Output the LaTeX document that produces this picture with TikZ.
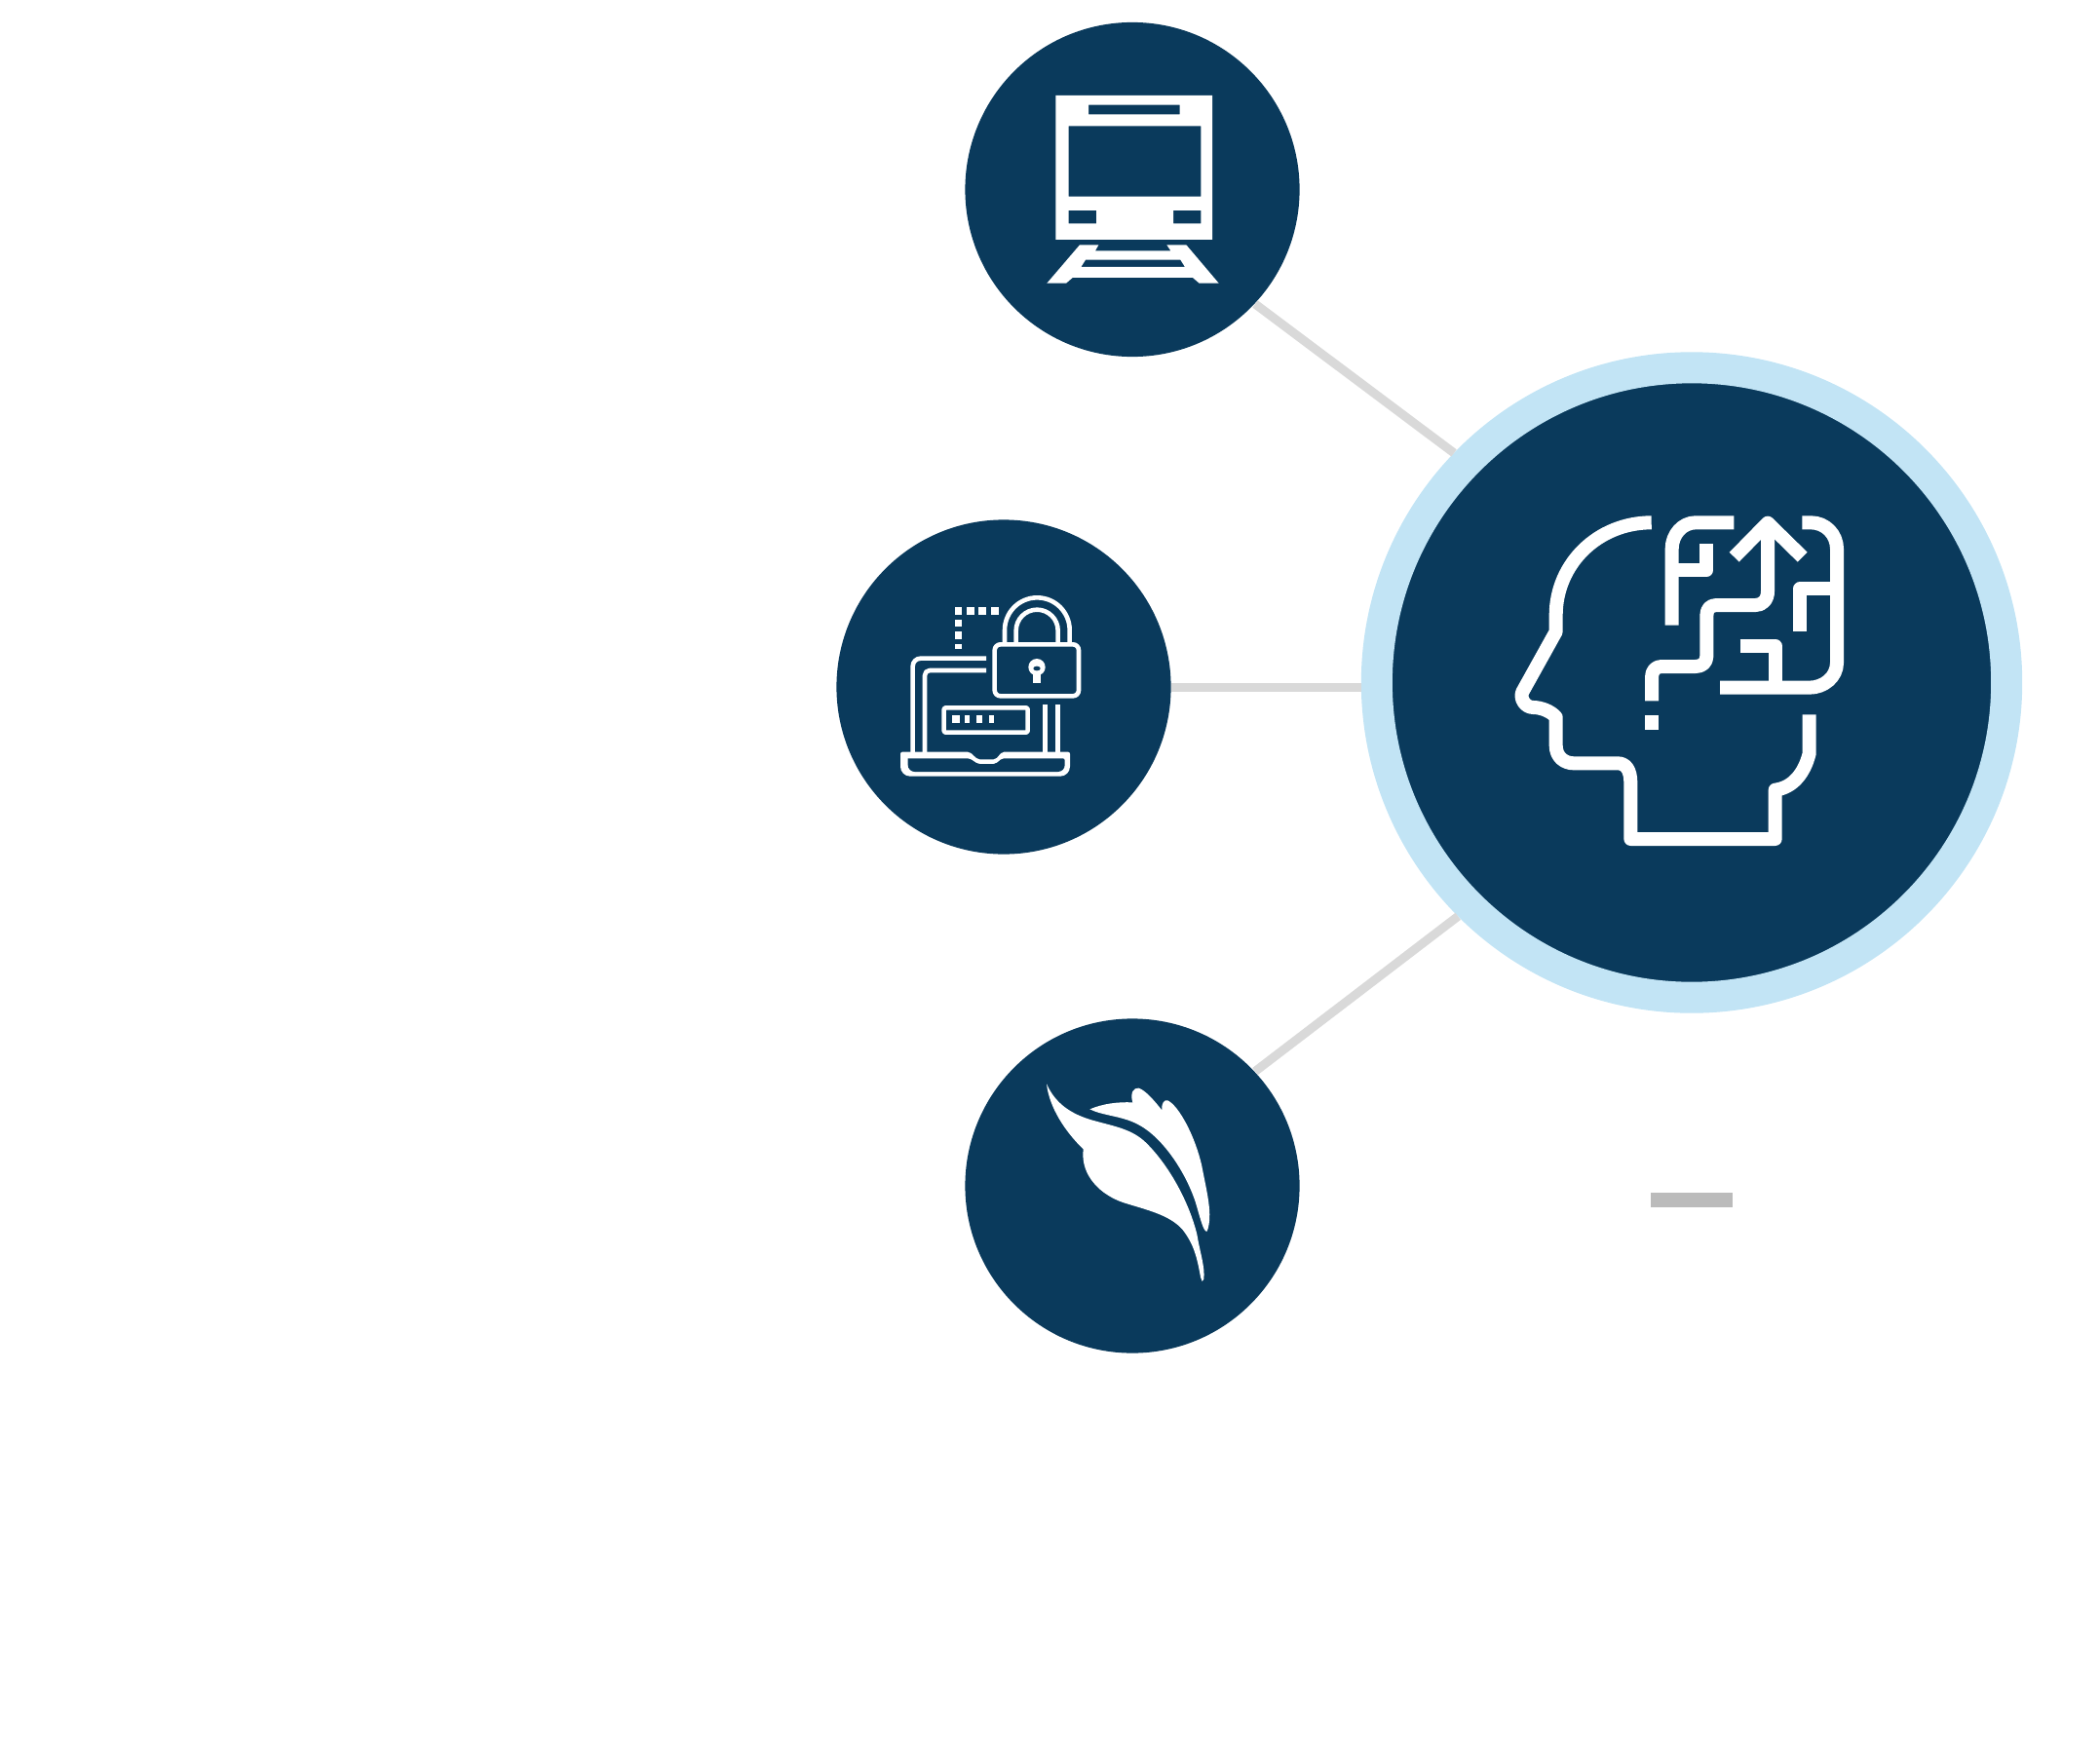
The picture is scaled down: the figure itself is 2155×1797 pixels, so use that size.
\documentclass[tikz,border=0pt]{standalone}
\usepackage{tikz}
\usetikzlibrary{positioning}
\definecolor{hubblue}{HTML}{0A3A5C}
\definecolor{ringblue}{HTML}{C2E4F5}
\definecolor{linkgray}{HTML}{D9D9D9}
\definecolor{bargray}{HTML}{BBBBBB}

\begin{document}
\begin{tikzpicture}[x=0.01cm,y=-0.01cm,
    spoke/.style={circle,fill=hubblue,minimum size=3.43cm,inner sep=0pt},
    hub/.style={circle,draw=ringblue,fill=hubblue,line width=0.32cm,minimum size=6.46cm,inner sep=0pt},
    link/.style={draw=linkgray,line width=0.09cm},
    thinicon/.style={draw=white,line width=0.046cm,line join=round},
    headicon/.style={draw=white,line width=0.14cm,line join=round},
    iconzoom/.style={shift={#1},scale=1/3}]
    \useasboundingbox (0,0) rectangle (2155,1797);

    \node[hub] (brain) at (1736,700.5) {};
    \node[spoke] (train) at (1162,194.5) {};
    \node[spoke] (leaf) [below=6.775cm of train] {};
    \node[spoke] (laptop) at (1030,705) {};
    \node[fill=bargray,minimum width=0.84cm,minimum height=0.15cm,inner sep=0pt] (bar) at (1736,1231.5) {};

    \path[link] (train.-43) -- (brain.136.2);
    \path[link] (laptop.east) -- (laptop.east -| brain.west);
    \path[link] (leaf.43.7) -- (brain.225);

    % train
    \begin{scope}[iconzoom={(1040,70)}]
        \fill[white,even odd rule] (130,84) rectangle (612,528)
            (231,113) rectangle (512,142)
            (170,178) rectangle (577,395)
            (170,438) rectangle (255,478)
            (492,438) rectangle (577,478);
        \fill[white,even odd rule] (103,662) -- (204,544) -- (262,544) -- (252,562) -- (484,562) -- (472,544)
            -- (532,544) -- (632,662) -- (572,662) -- (552,645) -- (182,645) -- (162,662) -- cycle
            (222,590) -- (514,590) -- (528,612) -- (208,612) -- cycle;
    \end{scope}

    % laptop and lock
    \begin{scope}[iconzoom={(910,590)}]
        \foreach \xa/\xb in {210/232,246/270,282/306,322/345}
            \fill[white] (\xa,99) rectangle (\xb,122);
        \foreach \ya/\yb in {137/158,175/198,213/228}
            \fill[white] (210,\ya) rectangle (232,\yb);
        \draw[thinicon,rounded corners=0.08cm] (306,257) -- (80,257) -- (80,548);
        \draw[thinicon,rounded corners=0.05cm] (306,294) -- (117,294) -- (117,548);
        \fill[white] [rounded corners=0.02cm] (42,545) -- (255,545) -- (280,568) -- (335,568) -- (355,545)
            -- (564,545) [rounded corners=0.1cm] -- (564,620) -- (42,620) [rounded corners=0.02cm] -- cycle;
        \fill[hubblue] [rounded corners=0.02cm] (65,565) -- (255,565) -- (280,582) -- (335,582) -- (355,565)
            -- (548,565) [rounded corners=0.07cm] -- (548,606) -- (65,606) [sharp corners] -- cycle;
        \draw[thinicon] (488,400) -- (488,548) (526,400) -- (526,548);
        \draw[thinicon,rounded corners=0.02cm] (176,409) rectangle (434,485);
        \foreach \xa/\xb in {201/224,240/254,276/294,316/330}
            \fill[white] (\xa,432) rectangle (\xb,455);
        \draw[thinicon,rounded corners=0.06cm] (332,214) rectangle (591,373);
        \draw[thinicon,rounded corners=0.333cm] (363,210) -- (363,70) -- (563,70) -- (563,210);
        \draw[thinicon,rounded corners=0.215cm] (398,210) -- (398,107) -- (527,107) -- (527,210);
        \fill[white] (462,284) circle [radius=26];
        \fill[white] (450,295) rectangle (474,332);
        \fill[hubblue] (462,288) circle [x radius=11,y radius=7];
    \end{scope}

    % leaf
    \begin{scope}[iconzoom={(1050,1090)}]
        \fill[white] (72,67) .. controls (100,130) and (150,160) .. (210,178)
            .. controls (280,198) and (335,205) .. (380,250)
            .. controls (450,320) and (510,430) .. (535,530)
            .. controls (545,590) and (560,630) .. (556,668)
            -- (551,675) -- (546,662)
            .. controls (535,600) and (525,560) .. (490,515)
            .. controls (450,470) and (380,455) .. (310,433)
            .. controls (240,410) and (175,350) .. (185,268)
            .. controls (130,215) and (80,140) .. (72,67) -- cycle;
        \fill[white] (205,145) .. controls (245,128) and (290,122) .. (337,124)
            .. controls (328,95) and (340,78) .. (355,80)
            .. controls (375,85) and (405,120) .. (427,148)
            .. controls (425,125) and (435,115) .. (445,118)
            .. controls (480,135) and (530,230) .. (550,320)
            .. controls (565,400) and (585,470) .. (566,521)
            .. controls (555,525) and (545,480) .. (530,430)
            .. controls (500,340) and (430,230) .. (350,190)
            .. controls (300,165) and (245,165) .. (205,145) -- cycle;
    \end{scope}

    % head
    \begin{scope}[iconzoom={(1540,510)}]
        \draw[headicon] (464,79) .. controls (300,79) and (170,205) .. (170,365) -- (170,415) -- (67,600)
            .. controls (58,620) and (75,648) .. (100,648) .. controls (125,648) and (155,660) .. (170,678)
            -- (170,765) .. controls (170,800) and (195,820) .. (225,820) -- (360,820)
            .. controls (385,820) and (400,840) .. (400,880) -- (400,1053) -- (845,1053) -- (845,902)
            .. controls (900,895) and (935,850) .. (950,790) -- (950,670);
        \draw[headicon] (718,79) -- (600,79) .. controls (560,79) and (527,115) .. (527,160) -- (527,395);
        \draw[headicon] (527,226) -- (633,226) -- (633,143);
        \draw[headicon] (719,185) -- (822,80) -- (929,185);
        \draw[headicon] (822,80) -- (822,290) .. controls (822,318) and (805,333) .. (785,333) -- (665,333)
            .. controls (645,333) and (634,345) .. (634,365) -- (634,490)
            .. controls (634,510) and (620,522) .. (600,522) -- (495,522)
            .. controls (477,522) and (465,535) .. (465,555) -- (465,628);
        \fill[white] (444,671) rectangle (486,716);
        \draw[headicon] (928,79) -- (955,79) .. controls (1000,79) and (1035,115) .. (1035,160) -- (1035,510)
            .. controls (1035,555) and (995,587) .. (950,587) -- (675,587);
        \draw[headicon] (1035,282) -- (922,282) -- (922,415);
        \draw[headicon] (737,459) -- (845,459) -- (845,587);
    \end{scope}
\end{tikzpicture}
\end{document}
